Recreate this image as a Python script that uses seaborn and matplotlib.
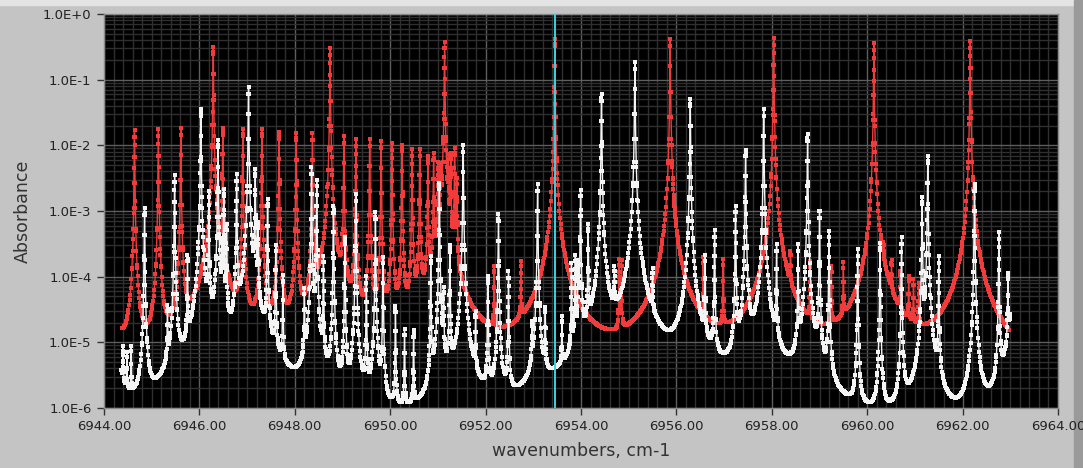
import numpy as np
import pandas as pd
import matplotlib
matplotlib.use("Agg")
import matplotlib.pyplot as plt
import matplotlib.ticker as mticker
import seaborn as sns

# ---- line lists (centre in cm-1, peak absorbance) ----
red_centers = [6944.14, 6944.64, 6945.14, 6945.61, 6946.29, 6946.49, 6946.91, 6947.31, 6947.67,
               6948.03, 6948.37, 6948.74, 6949.03, 6949.28, 6949.57, 6949.81, 6950.04,
               6950.25, 6950.46, 6950.62, 6950.79, 6950.91, 6951.00, 6951.06, 6951.14,
               6951.22, 6951.27, 6951.35, 6951.40, 6952.18, 6952.74, 6953.45, 6954.80,
               6954.85, 6955.87, 6955.97, 6956.56, 6956.98, 6958.04, 6958.39, 6958.80,
               6959.25, 6959.50, 6960.14, 6960.34, 6960.51, 6960.69, 6960.87, 6960.97,
               6961.08, 6962.16]
red_peaks = [0.0165, 0.0169, 0.0175, 0.0183, 0.31, 0.0183, 0.0175, 0.0175, 0.0160,
             0.0154, 0.0154, 0.30, 0.0136, 0.0125, 0.0125, 0.0116, 0.0107,
             0.0102, 0.0088, 0.0088, 0.0068, 0.0074, 0.005, 0.004, 0.38,
             0.006, 0.007, 0.0088, 0.003, 1.3e-4, 1.5e-4, 0.41, 1.7e-4,
             1.6e-4, 0.41, 1.8e-4, 1.7e-4, 1.7e-4, 0.43, 1.6e-4, 1.5e-4,
             1.25e-4, 1.4e-4, 0.36, 1.2e-4, 1.1e-4, 9e-5, 8e-5, 7e-5,
             6e-5, 0.39]

white_centers = [6944.20, 6944.40, 6944.48, 6944.57, 6944.85, 6945.33, 6945.48, 6945.75,
                 6946.03, 6946.20, 6946.39, 6946.47, 6946.51, 6946.57, 6946.78, 6947.03,
                 6947.17, 6947.23, 6947.43, 6947.60, 6947.75, 6948.20, 6948.35, 6948.46,
                 6948.60, 6948.81, 6949.05, 6949.28, 6949.50, 6949.69, 6949.85, 6950.11,
                 6950.30, 6950.49, 6950.85, 6951.03, 6951.12, 6951.25, 6951.53, 6951.79,
                 6952.05, 6952.27, 6952.48, 6952.97, 6953.09, 6953.25, 6953.60, 6953.80,
                 6953.88, 6953.94, 6953.99, 6954.15, 6954.43, 6954.70, 6955.13, 6955.50,
                 6956.29, 6956.60, 6956.80, 6957.24, 6957.45, 6957.83, 6958.10, 6958.55,
                 6958.75, 6959.00, 6959.20, 6959.80, 6960.27, 6960.72, 6961.15, 6961.27,
                 6961.50, 6962.25, 6962.76, 6962.95, 6963.10]
white_peaks = [3e-3, 6e-6, 5e-6, 7e-6, 1.1e-3, 3e-5, 3.5e-3, 2e-4,
               0.036, 2e-3, 0.012, 3e-4, 2.1e-3, 6e-4, 3.6e-3, 0.078,
               4.2e-3, 6e-4, 1.5e-3, 3e-4, 1e-4, 6e-5, 4.6e-3, 3e-3,
               2e-4, 1.2e-3, 4e-4, 1.8e-3, 1e-4, 9.5e-4, 2e-4, 3.5e-5,
               1.5e-5, 1.4e-5, 2e-4, 2.7e-3, 6e-5, 3e-4, 0.01, 2.5e-5,
               1e-4, 9e-4, 1.2e-4, 1.5e-5, 2.6e-3, 3e-5, 2e-5, 1.5e-4,
               2e-4, 1.5e-4, 2.1e-3, 6e-4, 0.061, 1e-4, 0.185, 1e-4,
               0.05, 2e-4, 5e-4, 1.2e-3, 8.6e-3, 0.036, 3e-4, 3e-4,
               0.015, 1e-3, 5e-4, 2.6e-4, 3.2e-4, 4e-4, 1.6e-3, 6.8e-3,
               2e-4, 2.6e-3, 4.7e-4, 1e-4, 0.012]

red_range = (6944.38, 6962.97)
white_range = (6944.36, 6963.00)
cursor_wn = 6953.45

x_ticks = [6944, 6946, 6948, 6950, 6952, 6954, 6956, 6958, 6960, 6962, 6964]
y_ticks = [1e-6, 1e-5, 1e-4, 1e-3, 1e-2, 1e-1, 1.0]

HWHM = 0.0048         # Lorentzian half width, cm-1
STEP = 0.012          # base sampling step, cm-1
NEAR = np.array([0.0, 0.0025, 0.006, 0.011, 0.018, 0.027, 0.04, 0.055])


def sample_grid(lo, hi, centers):
    base = np.arange(lo, hi + 1e-9, STEP)
    extra = [c + s * NEAR for c in centers for s in (-1, 1)]
    g = np.unique(np.concatenate([base] + extra))
    return g[(g >= lo) & (g <= hi)]


def spectrum(grid, centers, peaks):
    c = np.asarray(centers)[:, None]
    a = np.asarray(peaks)[:, None]
    return (a * HWHM ** 2 / ((grid[None, :] - c) ** 2 + HWHM ** 2)).sum(axis=0)


gr = sample_grid(*red_range, red_centers)
gw = sample_grid(*white_range, white_centers)
df = pd.concat([
    pd.DataFrame({"wn": gr, "absorbance": spectrum(gr, red_centers, red_peaks), "trace": "model"}),
    pd.DataFrame({"wn": gw, "absorbance": spectrum(gw, white_centers, white_peaks), "trace": "measured"}),
], ignore_index=True)

sns.set_theme(style="dark")
plt.rcParams["font.family"] = ["DejaVu Sans"]

fig = plt.figure(figsize=(10.83, 4.68), dpi=100, facecolor="#c4c4c4")
# panel bevel
fig.add_artist(plt.Rectangle((0, 0.99), 1, 0.01, transform=fig.transFigure, color="#e4e4e4", zorder=-5))
fig.add_artist(plt.Rectangle((0.992, 0), 0.008, 1, transform=fig.transFigure, color="#9a9a9a", zorder=-5))
ax = fig.add_axes([104 / 1083, 1 - 408 / 468, 954 / 1083, 394 / 468])
ax.set_facecolor("black")

sns.lineplot(data=df, x="wn", y="absorbance", hue="trace",
             palette={"model": "#f23c3c", "measured": "#f4f4f4"},
             estimator=None, sort=True, legend=False, ax=ax,
             marker="s", markersize=3.0, markeredgewidth=0, linewidth=1.0)

ax.axvline(cursor_wn, color="#39d3e3", lw=1.4, zorder=5)

ax.set_yscale("log")
ax.set_ylim(1e-6, 1.0)
ax.set_xlim(x_ticks[0], x_ticks[-1])
ax.set_xticks(x_ticks)
ax.xaxis.set_major_formatter(mticker.FuncFormatter(lambda v, p: f"{v:.2f}"))
ax.xaxis.set_minor_locator(mticker.MultipleLocator(0.2))
ax.set_yticks(y_ticks)
ax.yaxis.set_minor_locator(mticker.LogLocator(base=10, subs=np.arange(2, 10), numticks=20))
ax.yaxis.set_major_formatter(mticker.FuncFormatter(
    lambda v, p: "1.0E+0" if v >= 1 else f"1.0E{int(round(np.log10(v)))}"))
ax.yaxis.set_minor_formatter(mticker.NullFormatter())

ax.grid(which="major", color="#5e5e5e", lw=1.0)
ax.grid(which="minor", color="#2f2f2f", lw=1.0)
ax.set_axisbelow(True)
for s in ax.spines.values():
    s.set_color("#8a8a8a")
    s.set_linewidth(1.0)

ax.tick_params(which="major", direction="out", length=5, width=1, color="#333333",
               labelsize=9.5, labelcolor="#222222", pad=4,
               bottom=True, left=True)
ax.tick_params(which="minor", length=0)
ax.set_xlabel("wavenumbers, cm-1", fontsize=12.5, color="#333333", labelpad=6)
ax.set_ylabel("Absorbance", fontsize=12.5, color="#333333", labelpad=8)

fig.savefig("out.png", dpi=100, facecolor=fig.get_facecolor())
